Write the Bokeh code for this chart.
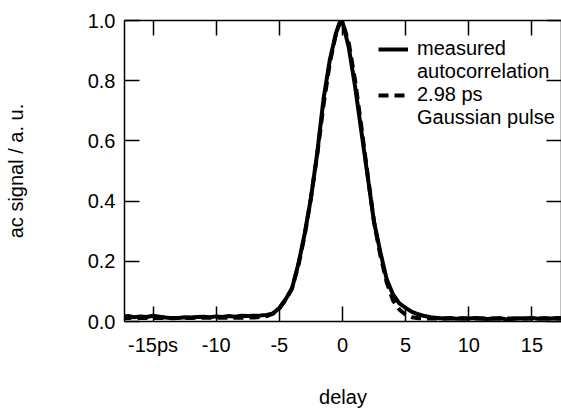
from bokeh.plotting import figure
from bokeh.models import Range1d, LinearAxis, FixedTicker, Legend, LegendItem
from bokeh.embed import file_html
from bokeh.resources import INLINE

# ---------------- data ----------------
measured_delay = [-17.5, -17.0, -16.5, -16.0, -15.5, -15.0, -14.5, -14.0, -13.5, -13.0,
                  -12.5, -12.0, -11.5, -11.0, -10.5, -10.0, -9.5, -9.0, -8.5, -8.0,
                  -7.5, -7.0, -6.5, -6.0, -5.5, -5.0, -4.5, -4.0, -3.5, -3.0,
                  -2.5, -2.0, -1.5, -1.0, -0.5, -0.15, 0.0, 0.5, 1.0, 1.5,
                  2.0, 2.5, 3.0, 3.5, 4.0, 4.5, 5.0, 5.5, 6.0, 6.5,
                  7.0, 7.5, 8.0, 8.5, 9.0, 9.5, 10.0, 10.5, 11.0, 11.5,
                  12.0, 12.5, 13.0, 13.5, 14.0, 14.5, 15.0, 15.5, 16.0, 16.5,
                  17.0, 17.5]
measured_signal = [0.016, 0.018, 0.014, 0.017, 0.015, 0.019, 0.016, 0.013, 0.011, 0.012,
                   0.014, 0.013, 0.015, 0.016, 0.014, 0.017, 0.015, 0.018, 0.016, 0.019,
                   0.018, 0.019, 0.020, 0.022, 0.027, 0.045, 0.074, 0.11, 0.19, 0.29,
                   0.41, 0.56, 0.74, 0.87, 0.96, 1.0, 0.995, 0.91, 0.78, 0.63,
                   0.48, 0.33, 0.23, 0.14, 0.09, 0.06, 0.045, 0.032, 0.024, 0.018,
                   0.014, 0.012, 0.010, 0.012, 0.009, 0.011, 0.010, 0.012, 0.010, 0.008,
                   0.010, 0.011, 0.007, 0.009, 0.011, 0.010, 0.012, 0.009, 0.011, 0.010,
                   0.012, 0.010]

gauss_delay = [-17.5, -12.0, -7.0, -6.0, -5.5, -5.0, -4.5, -4.0, -3.5, -3.0,
               -2.5, -2.0, -1.5, -1.0, -0.5, -0.15, 0.0, 0.5, 1.0, 1.5,
               2.0, 2.5, 3.0, 3.5, 4.0, 4.5, 5.0, 5.5, 6.0, 7.0,
               12.0, 17.5]
gauss_signal = [0.012, 0.012, 0.013, 0.018, 0.026, 0.043, 0.072, 0.11, 0.185, 0.285,
                0.41, 0.555, 0.72, 0.86, 0.96, 1.0, 0.995, 0.925, 0.80, 0.645,
                0.485, 0.33, 0.22, 0.13, 0.07, 0.04, 0.022, 0.014, 0.011, 0.010,
                0.010, 0.010]

x_ticks = [-15, -10, -5, 0, 5, 10, 15]
x_tick_labels = ["-15ps", "-10", "-5", "0", "5", "10", "15"]
y_ticks = [0.0, 0.2, 0.4, 0.6, 0.8, 1.0]
y_tick_labels = ["0.0", "0.2", "0.4", "0.6", "0.8", "1.0"]

legend_labels = ["measured", "autocorrelation", "2.98 ps", "Gaussian pulse"]
x_title = "delay"
y_title = "ac signal / a. u."

FONT = "Liberation Sans"

p = figure(width=561, height=410, output_backend="svg", toolbar_location=None,
           x_range=Range1d(-17.26, 17.34), y_range=Range1d(0.0, 1.0),
           min_border_left=124, min_border_right=0, min_border_top=20,
           min_border_bottom=87, x_axis_location=None, y_axis_location=None)
p.outline_line_color = None
p.grid.visible = False
p.background_fill_color = "white"
p.border_fill_color = "white"


def style_axis(ax, ticks, labels, show_labels):
    ax.ticker = FixedTicker(ticks=ticks)
    ax.major_tick_in = 15
    ax.major_tick_out = 0
    ax.minor_tick_in = 0
    ax.minor_tick_out = 0
    ax.major_tick_line_width = 1.5
    ax.major_tick_line_color = "black"
    ax.axis_line_width = 1.5
    ax.axis_line_color = "black"
    ax.major_label_text_font = FONT
    ax.major_label_text_color = "black"
    ax.major_label_text_font_size = "20px"
    if show_labels:
        ax.major_label_overrides = {t: l for t, l in zip(ticks, labels)}
    else:
        ax.major_label_overrides = {t: "" for t in ticks}
        ax.major_label_standoff = 0


xb = LinearAxis()
style_axis(xb, x_ticks, x_tick_labels, True)
xb.major_label_standoff = 12
xb.axis_label = x_title
xb.axis_label_text_font = FONT
xb.axis_label_text_font_size = "20px"
xb.axis_label_text_font_style = "normal"
xb.axis_label_text_color = "black"
xb.axis_label_standoff = 27
p.add_layout(xb, "below")

xt = LinearAxis()
style_axis(xt, x_ticks, x_tick_labels, False)
p.add_layout(xt, "above")

yl = LinearAxis()
style_axis(yl, y_ticks, y_tick_labels, True)
yl.major_label_standoff = 9
yl.axis_label = y_title
yl.axis_label_text_font = FONT
yl.axis_label_text_font_size = "20px"
yl.axis_label_text_font_style = "normal"
yl.axis_label_text_color = "black"
yl.axis_label_standoff = 58
p.add_layout(yl, "left")

yr = LinearAxis()
style_axis(yr, y_ticks, y_tick_labels, False)
p.add_layout(yr, "right")

r_meas = p.line(measured_delay, measured_signal, line_color="black", line_width=4)
r_gauss = p.line(gauss_delay, gauss_signal, line_color="black", line_width=4,
                 line_dash="10 6")
r_blank1 = p.line(measured_delay, measured_signal, line_alpha=0)
r_blank2 = p.line(gauss_delay, gauss_signal, line_alpha=0)

legend = Legend(items=[
    LegendItem(label=legend_labels[0], renderers=[r_meas]),
    LegendItem(label=legend_labels[1], renderers=[r_blank1]),
    LegendItem(label=legend_labels[2], renderers=[r_gauss]),
    LegendItem(label=legend_labels[3], renderers=[r_blank2]),
], location=(254, 192), padding=0, margin=0, spacing=0,
    glyph_width=30, glyph_height=20, label_height=20, label_standoff=9,
    label_text_font=FONT, label_text_font_size="20px", label_text_color="black",
    label_text_line_height=0.85,
    background_fill_alpha=0, border_line_alpha=0)
p.add_layout(legend, "center")

open("out.html", "w").write(file_html(p, INLINE))
